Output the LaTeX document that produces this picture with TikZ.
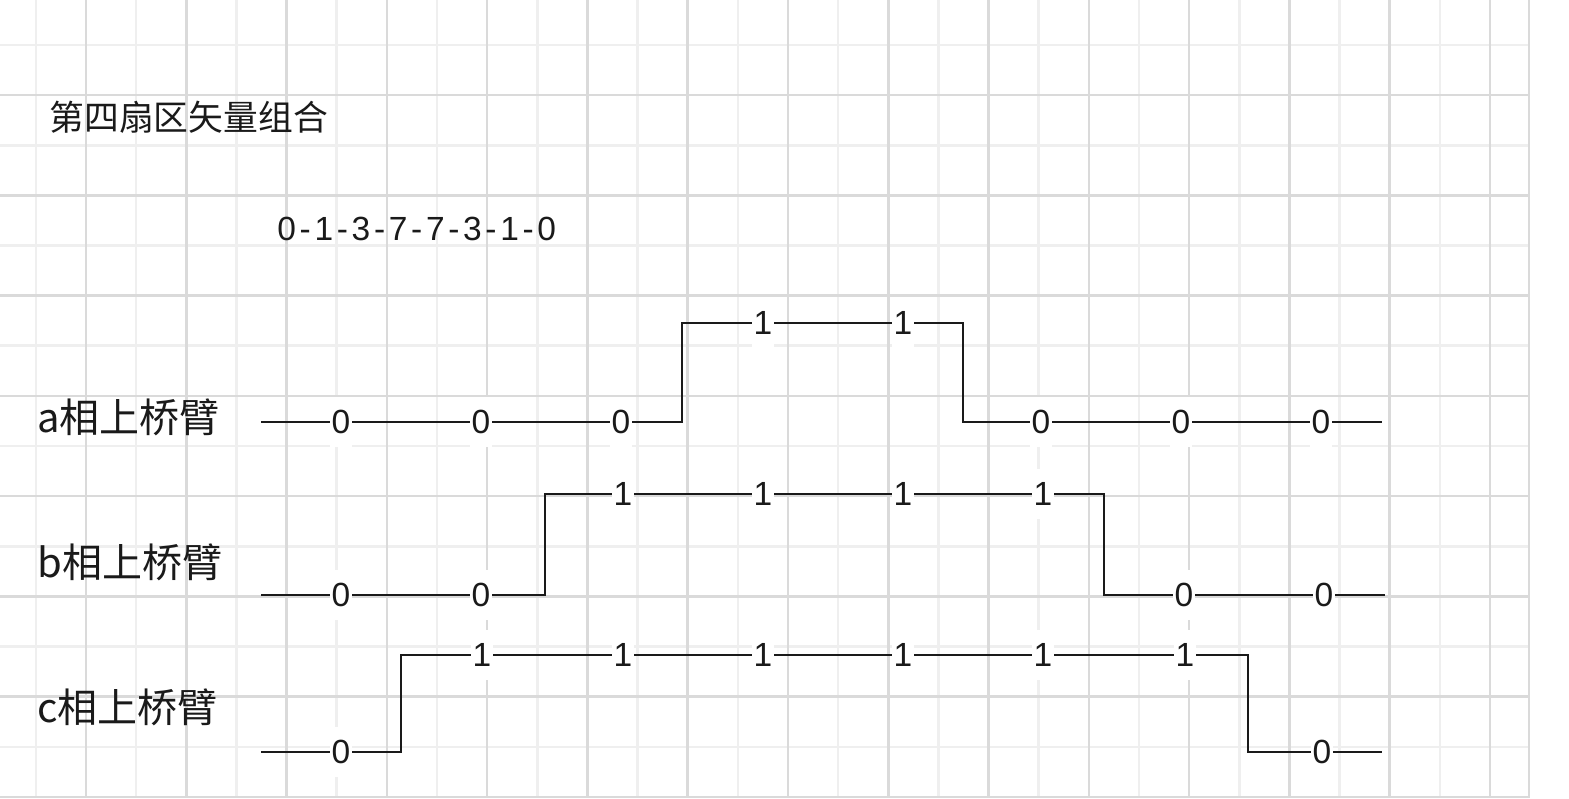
\documentclass[tikz,border=0pt]{standalone}
\usepackage{fontspec}
\setmainfont{Liberation Sans}
\newfontfamily\cjk{Noto Sans CJK SC}
\newfontfamily\seqfont[LetterSpace=11]{Liberation Sans}
\pgfdeclarelayer{gridlayer}
\pgfdeclarelayer{wire}
\pgfsetlayers{gridlayer,wire,main}
\definecolor{wavecol}{HTML}{1A1A1A}
\definecolor{griddark}{HTML}{DADADA}
\definecolor{gridlight}{HTML}{EFEFEF}
\definecolor{txtcol}{HTML}{1A1A1A}
\begin{document}
\begin{tikzpicture}[x=0.5pt,y=-0.5pt,
  bit/.style={fill=white, inner sep=0pt, minimum width=11pt, minimum height=25pt, text=txtcol,
    font=\fontsize{16.75pt}{16.75pt}\selectfont},
  wave/.style={line width=1.4pt, draw=wavecol},
  gd/.style={line width=1.3pt, draw=griddark},
  gl/.style={line width=1.3pt, draw=gridlight},
  lbl/.style={anchor=base west, inner sep=0pt, text=txtcol, font=\cjk\fontsize{20pt}{20pt}\selectfont}]
\useasboundingbox (0,0) rectangle (1569,798);
\begin{pgfonlayer}{gridlayer}
  \fill[white] (0,0) rectangle (1569,798);
  \foreach \k in {0,2,...,28} {\pgfmathsetmacro\xx{35.9+50.14*\k}\draw[gl] (\xx,0) -- (\xx,798);}
  \foreach \k in {0,2,...,14} {\pgfmathsetmacro\yy{45+50.13*\k}\draw[gl] (0,\yy) -- (1529,\yy);}
  \foreach \k in {1,3,...,29} {\pgfmathsetmacro\xx{35.9+50.14*\k}\draw[gd] (\xx,0) -- (\xx,798);}
  \foreach \k in {1,3,...,15} {\pgfmathsetmacro\yy{45+50.13*\k}\draw[gd] (0,\yy) -- (1529,\yy);}
  \draw[gd] (1529,0) -- (1529,798);
\end{pgfonlayer}

% texts
\node[anchor=base west, inner sep=0pt, text=txtcol, font=\cjk\fontsize{17.4pt}{17.4pt}\selectfont] (title) at (49,130) {第四扇区矢量组合};
\node[anchor=base west, inner sep=0pt, text=txtcol, font=\seqfont\fontsize{16.75pt}{16.75pt}\selectfont] (seq) at (277,240) {0-1-3-7-7-3-1-0};
\node[lbl] (ta) at (37,432) {a相上桥臂};
\node[lbl] (tb) at (37,577) {b相上桥臂};
\node[lbl] (tc) at (37,722) {c相上桥臂};

% row a
\node[bit] (a1) at (341,422) {0};
\node[bit] (a2) at (481,422) {0};
\node[bit] (a3) at (621,422) {0};
\node[bit] (a4) at (763,323) {1};
\node[bit] (a5) at (903,323) {1};
\node[bit] (a6) at (1041,422) {0};
\node[bit] (a7) at (1181,422) {0};
\node[bit] (a8) at (1321,422) {0};
\coordinate (aS) at (261,422);
\coordinate (aR1) at (682,422);
\coordinate (aR2) at (682,323);
\coordinate (aF1) at (963,323);
\coordinate (aF2) at (963,422);
\coordinate (aE) at (1382,422);

% row b
\node[bit] (b1) at (341,595) {0};
\node[bit] (b2) at (481,595) {0};
\node[bit] (b3) at (623,494) {1};
\node[bit] (b4) at (763,494) {1};
\node[bit] (b5) at (903,494) {1};
\node[bit] (b6) at (1043,494) {1};
\node[bit] (b7) at (1184,595) {0};
\node[bit] (b8) at (1324,595) {0};
\coordinate (bS) at (261,595);
\coordinate (bR1) at (545,595);
\coordinate (bR2) at (545,494);
\coordinate (bF1) at (1104,494);
\coordinate (bF2) at (1104,595);
\coordinate (bE) at (1385,595);

% row c
\node[bit] (c1) at (341,752) {0};
\node[bit] (c2) at (482,655) {1};
\node[bit] (c3) at (623,655) {1};
\node[bit] (c4) at (763,655) {1};
\node[bit] (c5) at (903,655) {1};
\node[bit] (c6) at (1043,655) {1};
\node[bit] (c7) at (1185,655) {1};
\node[bit] (c8) at (1322,752) {0};
\coordinate (cS) at (261,752);
\coordinate (cR1) at (401,752);
\coordinate (cR2) at (401,655);
\coordinate (cF1) at (1248,655);
\coordinate (cF2) at (1248,752);
\coordinate (cE) at (1382,752);

\begin{pgfonlayer}{wire}
\draw[wave] (aS) -- (a1) -- (a2) -- (a3) -- (aR1) -- (aR2) -- (a4) -- (a5) -- (aF1) -- (aF2) -- (a6) -- (a7) -- (a8) -- (aE);
\draw[wave] (bS) -- (b1) -- (b2) -- (bR1) -- (bR2) -- (b3) -- (b4) -- (b5) -- (b6) -- (bF1) -- (bF2) -- (b7) -- (b8) -- (bE);
\draw[wave] (cS) -- (c1) -- (cR1) -- (cR2) -- (c2) -- (c3) -- (c4) -- (c5) -- (c6) -- (c7) -- (cF1) -- (cF2) -- (c8) -- (cE);
\end{pgfonlayer}
\end{tikzpicture}
\end{document}
